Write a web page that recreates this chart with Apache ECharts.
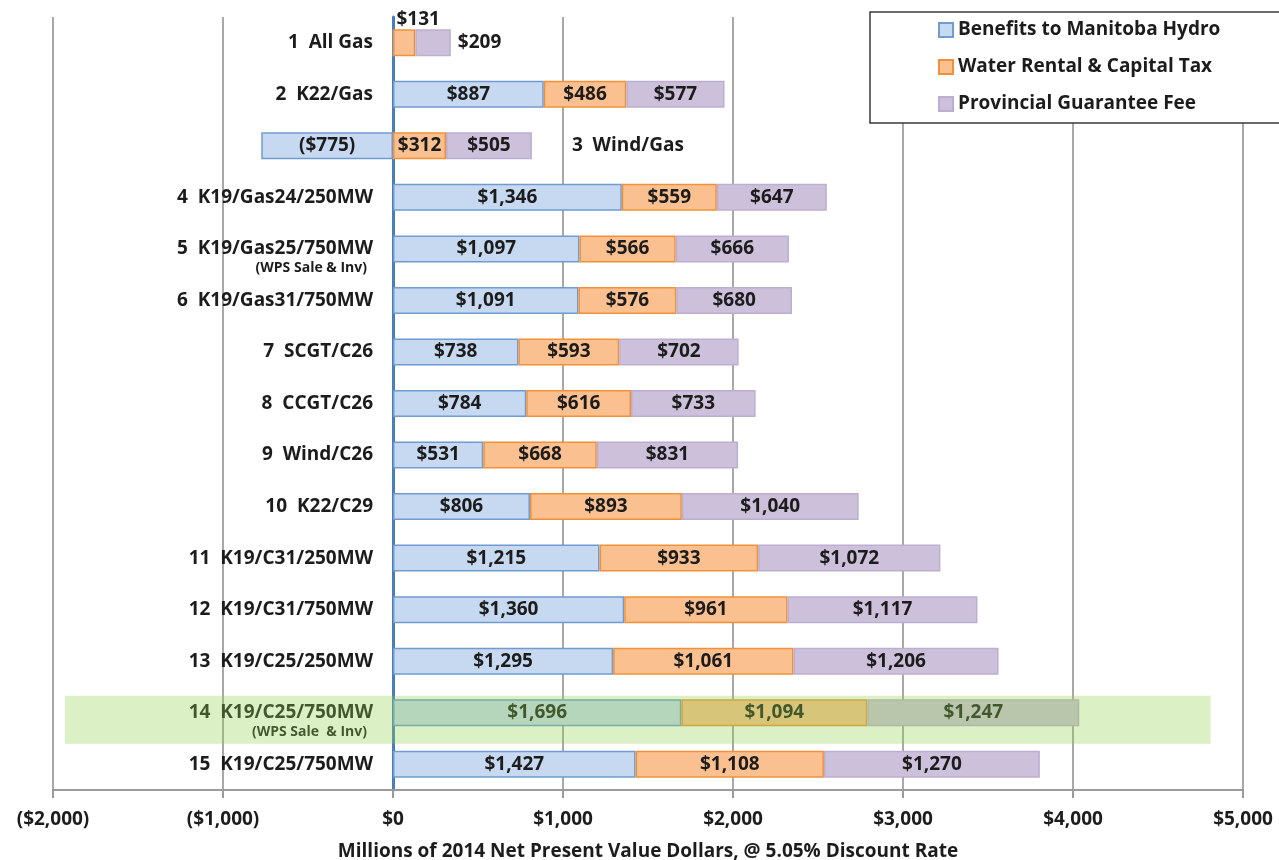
<!DOCTYPE html>
<html>
<head>
<meta charset="utf-8">
<title>Net Present Value by Plan</title>
<script src="https://cdn.jsdelivr.net/npm/echarts@6/dist/echarts.min.js"></script>
<style>
  html, body { margin: 0; padding: 0; background: #fff; }
  #chart { width: 1279px; height: 860px; }
</style>
</head>
<body>
<div id="chart"></div>
<script>
"use strict";

// categories (top to bottom)
let categories = [
  "1  All Gas", "2  K22/Gas", "3  Wind/Gas", "4  K19/Gas24/250MW",
  "5  K19/Gas25/750MW", "6  K19/Gas31/750MW", "7  SCGT/C26", "8  CCGT/C26",
  "9  Wind/C26", "10  K22/C29", "11  K19/C31/250MW", "12  K19/C31/750MW",
  "13  K19/C25/250MW", "14  K19/C25/750MW", "15  K19/C25/750MW"
];
let categorySubs = ["", "", "", "", "(WPS Sale & Inv)", "", "", "", "", "", "", "", "", "(WPS Sale  & Inv)", ""];

// millions of 2014 NPV dollars
let benefits = [0, 887, -775, 1346, 1097, 1091, 738, 784, 531, 806, 1215, 1360, 1295, 1696, 1427];
let waterRental = [131, 486, 312, 559, 566, 576, 593, 616, 668, 893, 933, 961, 1061, 1094, 1108];
let guaranteeFee = [209, 577, 505, 647, 666, 680, 702, 733, 831, 1040, 1072, 1117, 1206, 1247, 1270];

let seriesNames = ["Benefits to Manitoba Hydro", "Water Rental & Capital Tax", "Provincial Guarantee Fee"];
let xTicks = [-2000, -1000, 0, 1000, 2000, 3000, 4000, 5000];

let FONT = "Open Sans";
let TEXT = "#1c1c1c";
let FS = 19;
let GRID_LEFT = 53;

// row whose name sits beside the bar instead of on the axis
let sideLabelRow = 2;
// highlighted row
let highlightRow = 13;

function money(v) {
  let s = "$" + Math.abs(v).toLocaleString("en-US");
  return v < 0 ? "(" + s + ")" : s;
}

// turn plain values into data items, with a few label tweaks
function buildData(values, tweaks) {
  return values.map(function(v, i) {
    let item = { value: v };
    if (tweaks && tweaks[i]) item.label = tweaks[i];
    if (v === 0) item.label = { show: false };
    return item;
  });
}

let chart = echarts.init(document.getElementById("chart"));

let barLabel = {
  show: true,
  position: "inside",
  color: TEXT,
  fontFamily: FONT,
  fontWeight: "bold",
  fontSize: FS,
  formatter: function(p) { return money(p.value); }
};

let option = {
  animation: false,
  textStyle: { fontFamily: FONT },
  grid: { left: GRID_LEFT, right: 36, top: 17, bottom: 70, containLabel: false, outerBoundsMode: "none" },
  legend: {
    orient: "vertical",
    left: 870,
    top: 12,
    data: seriesNames,
    icon: "rect",
    itemWidth: 14,
    itemHeight: 14,
    itemGap: 15,
    padding: [7, 100, 8, 68],
    backgroundColor: "#fff",
    borderColor: "#3a3a3a",
    borderWidth: 1.5,
    textStyle: { fontFamily: FONT, fontWeight: "bold", fontSize: FS, lineHeight: 22, color: TEXT }
  },
  xAxis: {
    type: "value",
    min: xTicks[0],
    max: xTicks[xTicks.length - 1],
    interval: 1000,
    name: "Millions of 2014 Net Present Value Dollars, @ 5.05% Discount Rate",
    nameLocation: "middle",
    nameGap: 52,
    nameTextStyle: { fontFamily: FONT, fontWeight: "bold", fontSize: FS, color: TEXT },
    axisLine: { show: true, lineStyle: { color: "#9a9a9a", width: 2 } },
    axisTick: { show: true, length: 8, lineStyle: { color: "#9a9a9a", width: 2 } },
    axisLabel: {
      margin: 20,
      fontFamily: FONT,
      fontWeight: "bold",
      fontSize: FS,
      color: TEXT,
      formatter: money
    },
    splitLine: { show: true, lineStyle: { color: "#a8a8a8", width: 2 } }
  },
  yAxis: {
    type: "category",
    inverse: true,
    data: categories,
    axisLine: { show: true, onZero: false, lineStyle: { color: "#4a7ebb", width: 3 } },
    axisTick: { show: false },
    axisLabel: {
      margin: 20,
      interval: 0,
      color: TEXT,
      formatter: function(name, i) {
        if (i === sideLabelRow) return "";
        if (categorySubs[i]) return "{g| }\n{m|" + name + "}\n{s|" + categorySubs[i] + "}";
        return "{m|" + name + "}";
      },
      rich: {
        m: { fontFamily: FONT, fontWeight: "bold", fontSize: FS, lineHeight: 22, color: TEXT, align: "right" },
        s: { fontFamily: FONT, fontWeight: "bold", fontSize: 14, lineHeight: 17, color: TEXT, align: "right", padding: [0, 6, 0, 0] },
        g: { fontSize: 14, lineHeight: 17 }
      }
    }
  },
  series: [
    {
      name: seriesNames[0],
      type: "bar",
      stack: "total",
      barWidth: 27,
      itemStyle: { color: "#c6d9f1", borderColor: "#6f9bd1", borderWidth: 1.5 },
      label: barLabel,
      data: buildData(benefits)
    },
    {
      name: seriesNames[1],
      type: "bar",
      stack: "total",
      barWidth: 27,
      itemStyle: { color: "#fac090", borderColor: "#f0913a", borderWidth: 1.5 },
      label: barLabel,
      data: buildData(waterRental, { 0: { position: "top", distance: 0, offset: [14, 0] } })
    },
    {
      name: seriesNames[2],
      type: "bar",
      stack: "total",
      barWidth: 27,
      itemStyle: { color: "#ccc0da", borderColor: "#bcaed0", borderWidth: 1.5 },
      label: barLabel,
      data: buildData(guaranteeFee, { 0: { position: "right", distance: 7 } })
    },
    {
      // category name written beside row 3's bar
      name: "side label",
      type: "scatter",
      symbolSize: 0,
      silent: true,
      itemStyle: { opacity: 1 },
      label: {
        show: true,
        position: "right",
        distance: 40,
        color: TEXT,
        fontFamily: FONT,
        fontWeight: "bold",
        fontSize: FS,
        formatter: function() { return categories[sideLabelRow]; }
      },
      data: [[Math.max(0, benefits[sideLabelRow]) + waterRental[sideLabelRow] + guaranteeFee[sideLabelRow], sideLabelRow]]
    }
  ]
};

chart.setOption(option);

// move the category axis (line + labels) onto x = 0
let zeroPx = chart.convertToPixel({ gridIndex: 0 }, [0, 0])[0];
chart.setOption({ yAxis: { offset: GRID_LEFT - zeroPx } });

// green highlight band over row 14, placed through the axes
let p0 = chart.convertToPixel({ gridIndex: 0 }, [-1930, highlightRow]);
let p1 = chart.convertToPixel({ gridIndex: 0 }, [4810, highlightRow]);
chart.setOption({
  graphic: [{
    type: "rect",
    z: 100,
    silent: true,
    shape: { x: p0[0], y: p0[1] - 17, width: p1[0] - p0[0], height: 48 },
    style: { fill: "rgba(146, 208, 80, 0.33)" }
  }]
});
</script>
</body>
</html>
